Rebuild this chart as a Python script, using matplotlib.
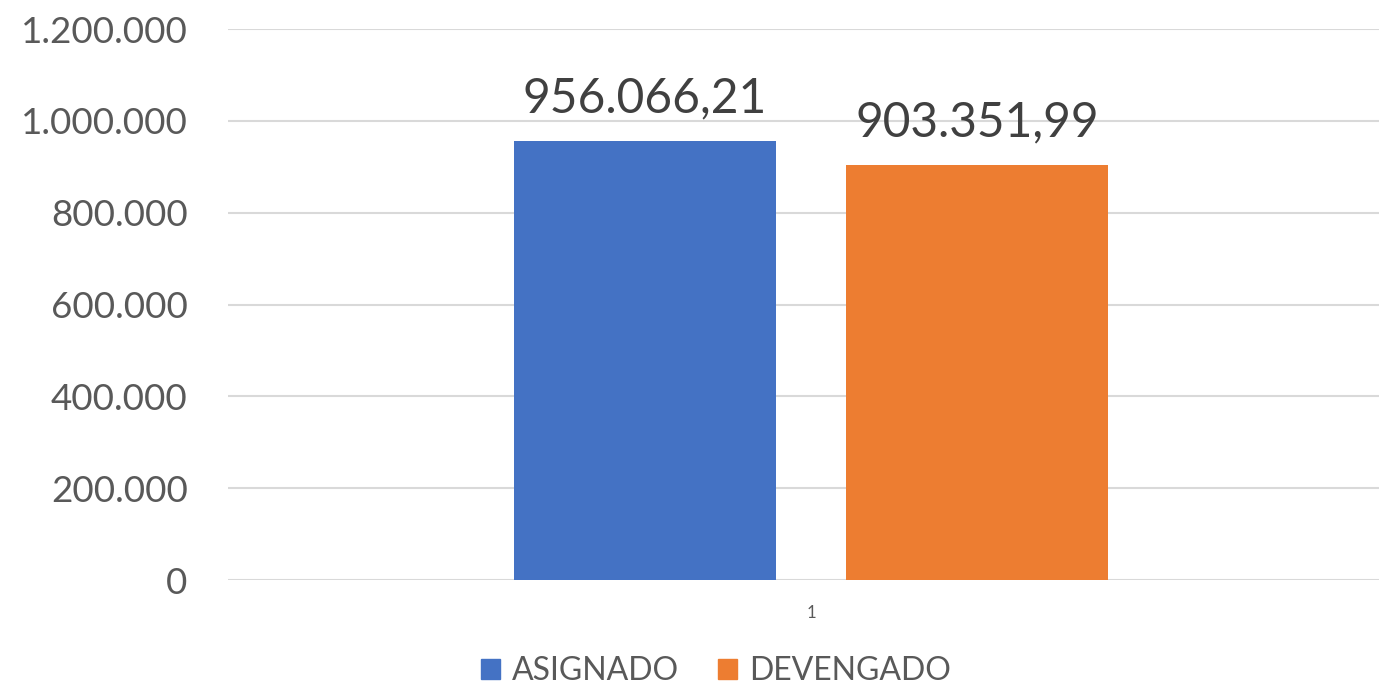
import matplotlib
matplotlib.use("Agg")
import matplotlib.pyplot as plt
from matplotlib.ticker import FuncFormatter
from matplotlib.patches import Patch

categories = ["1"]
series_names = ["ASIGNADO", "DEVENGADO"]
values = [956066.21, 903351.99]
colors = ["#4472C4", "#ED7D31"]
yticks = [0, 200000, 400000, 600000, 800000, 1000000, 1200000]

plt.rcParams['font.family'] = ['Lato', 'DejaVu Sans']

W, H = 1379, 687
fig = plt.figure(figsize=(W / 100, H / 100), dpi=100)
left, right = 228 / W, 1394 / W
bottom, top = (H - 580) / H, (H - 29.2) / H
ax = fig.add_axes([left, bottom, right - left, top - bottom])

def fmt_int(v, pos=None):
    return f"{int(round(v)):,}".replace(",", ".")

def fmt_dec(v):
    s = f"{v:,.2f}"
    return s.replace(",", "X").replace(".", ",").replace("X", ".")

bar_w = 262 / 1166
gap = 70 / 1166
offsets = [-(bar_w + gap) / 2, (bar_w + gap) / 2]
for i, (name, v, c) in enumerate(zip(series_names, values, colors)):
    ax.bar(0 + offsets[i], v, width=bar_w, color=c, label=name, zorder=3)
    ax.annotate(fmt_dec(v), xy=(0 + offsets[i], v), xytext=(0, 15),
                textcoords="offset points", ha="center", va="bottom",
                fontsize=34.5, color="#404040")

ax.set_xlim(-0.5, 0.5)
ax.set_ylim(0, 1200000)
ax.set_yticks(yticks)
ax.yaxis.set_major_formatter(FuncFormatter(fmt_int))
ax.set_xticks([0])
ax.set_xticklabels(categories)
ax.tick_params(axis='y', length=0, pad=29, labelsize=26.5, labelcolor="#595959")
ax.tick_params(axis='x', length=0, pad=18, labelsize=12, labelcolor="#595959")
ax.grid(axis='y', color="#D9D9D9", linewidth=1.5, zorder=0)
for s in ax.spines.values():
    s.set_visible(False)

handles = [Patch(color=c, label=n) for n, c in zip(series_names, colors)]
fig.legend(handles=handles, loc="center", bbox_to_anchor=(716 / W, 1 - 671 / H),
           ncol=2, frameon=False, fontsize=23, labelcolor="#595959",
           handlelength=0.6, handleheight=0.6, handletextpad=0.38, columnspacing=1.2)

fig.savefig("out.png", dpi=100)
